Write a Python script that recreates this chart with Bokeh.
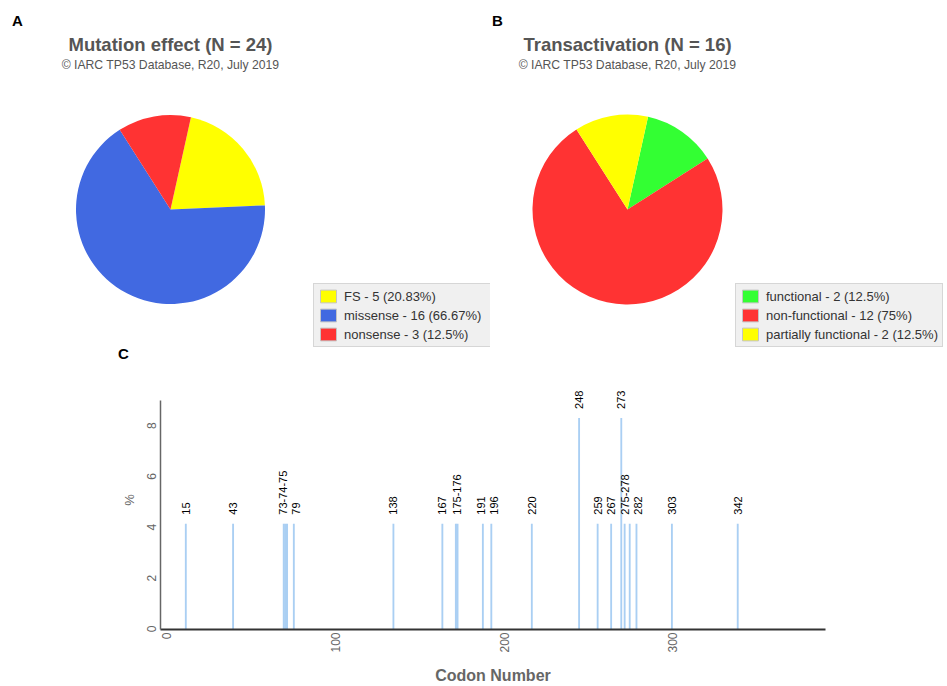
import math
from bokeh.plotting import figure
from bokeh.models import (Range1d, Label, LabelSet, ColumnDataSource, Legend,
                          LegendItem, FixedTicker, LinearAxis)
from bokeh.layouts import column, row
from bokeh.core.properties import value
from bokeh.embed import file_html
from bokeh.resources import INLINE

# ---------------- data ----------------
# Panel A: mutation effect
effect_cats = ["FS", "missense", "nonsense"]
effect_counts = [5, 16, 3]
effect_colors = ["#FFFF00", "#4169E1", "#FF3333"]

# Panel B: transactivation
ta_cats = ["functional", "non-functional", "partially functional"]
ta_counts = [2, 12, 2]
ta_colors = ["#33FF33", "#FF3333", "#FFFF00"]

# Panel C: codon distribution (number of mutations per codon)
codons = [15, 43, 73, 74, 75, 79, 138, 167, 175, 176, 191, 196, 220, 248,
          259, 267, 273, 275, 278, 282, 303, 342]
codon_counts = [1, 1, 1, 1, 1, 1, 1, 1, 1, 1, 1, 1, 1, 2,
                1, 1, 2, 1, 1, 1, 1, 1]
codon_labels = ["15", "43", "73-74-75", "79", "138", "167", "175-176", "191",
                "196", "220", "248", "259", "267", "273", "275-278", "282",
                "303", "342"]
x_ticks = [0, 100, 200, 300]
y_ticks = [0, 2, 4, 6, 8]

SUBTITLE = "\u00a9 IARC TP53 Database, R20, July 2019"
FONT = "Liberation Sans"

TOP_H = 365      # height of the pie row
SPLIT = 490      # width of the left pie panel
PAGE_W = 947
PAGE_H = 686
X_MAX = 394
Y_MAX = 10.2
FRAME_L, FRAME_R = 160, 122
BORDER_T, BORDER_B = 5, 57


def fmt_pct(v):
    return f"{round(v, 2):g}"


def pie_figure(x0, x1, title, cats, counts, colors, cx, cy, r, legend_x):
    p = figure(width=int(x1 - x0), height=TOP_H,
               x_range=Range1d(x0, x1), y_range=Range1d(TOP_H, 0),
               x_axis_type=None, y_axis_type=None,
               output_backend="svg", toolbar_location=None, min_border=0)
    p.grid.visible = False
    p.outline_line_color = None
    total = sum(counts)
    start_deg = 12.5  # clockwise from top
    s_ang, e_ang = [], []
    acc = start_deg
    for c in counts:
        a0 = acc
        a1 = acc + 360.0 * c / total
        s_ang.append(math.radians(90 - a0))
        e_ang.append(math.radians(90 - a1))
        acc = a1
    src = ColumnDataSource(dict(cat=cats, count=counts, color=colors,
                                s=s_ang, e=e_ang))
    p.wedge(x=cx, y=cy, radius=r, start_angle="s", end_angle="e",
            direction="clock", fill_color="color", line_color=None,
            source=src)

    p.add_layout(Label(x=cx, y=44, text=f"{title} (N = {total})",
                       text_align="center", text_baseline="middle",
                       text_font=FONT, text_font_size="18.5px",
                       text_font_style="bold", text_color="#555555"))
    p.add_layout(Label(x=cx, y=64, text=SUBTITLE,
                       text_align="center", text_baseline="middle",
                       text_font=FONT, text_font_size="12.2px",
                       text_color="#555555"))

    items = []
    for cat, n, col in zip(cats, counts, colors):
        rr = p.rect(x=[float("nan")], y=[float("nan")], width=1, height=1,
                    fill_color=col, line_color="#c4c4c4", line_width=1)
        items.append(LegendItem(label=f"{cat} - {n} ({fmt_pct(100.0 * n / total)}%)",
                                renderers=[rr]))
    leg = Legend(items=items, location=(legend_x - x0, TOP_H - 347),
                 glyph_width=20, glyph_height=16, label_height=14,
                 label_width=142,
                 label_standoff=6, spacing=3, padding=4, margin=0,
                 label_text_font=FONT, label_text_font_size="13px",
                 label_text_color="#333333",
                 background_fill_color="#f0f0f0", background_fill_alpha=1,
                 border_line_color="#bbbbbb", border_line_width=1)
    p.add_layout(leg)
    return p


pA = pie_figure(0, SPLIT, "Mutation effect", effect_cats, effect_counts,
                effect_colors, 170, 209, 94.5, 313)
pB = pie_figure(SPLIT, PAGE_W, "Transactivation", ta_cats, ta_counts,
                ta_colors, 627, 209, 95, 735)

for p, letter, lx0, ly0 in ((pA, "A", 17, 20), (pB, "B", 497, 20),
                            (pA, "C", 123, 353)):
    p.add_layout(Label(x=lx0, y=ly0, text=letter,
                       text_align="center", text_baseline="middle",
                       text_font=FONT, text_font_size="15px",
                       text_font_style="bold", text_color="#000000"))

# ---------------- panel C ----------------
N = sum(codon_counts)
pct = [100.0 * c / N for c in codon_counts]
pct_by_codon = dict(zip(codons, pct))

pc = figure(width=PAGE_W, height=PAGE_H - TOP_H,
            x_range=Range1d(0, X_MAX), y_range=Range1d(0, Y_MAX),
            output_backend="svg", toolbar_location=None,
            min_border_left=FRAME_L, min_border_right=FRAME_R,
            min_border_top=BORDER_T, min_border_bottom=BORDER_B)
pc.grid.visible = False
pc.outline_line_color = None

bar_src = ColumnDataSource(dict(codon=codons, pct=pct))
pc.vbar(x="codon", top="pct", width=1.1, source=bar_src,
        fill_color="#7cb5ec", fill_alpha=0.65, line_color=None)

# label anchors: centre of each group, at the tallest bar of the group
lx, ly = [], []
for lab in codon_labels:
    cs = [int(s) for s in lab.split("-")]
    lx.append(sum(cs) / len(cs))
    ly.append(max(pct_by_codon[c] for c in cs))
# push apart neighbouring labels at the same height that would overlap
px_per_unit = (PAGE_W - FRAME_L - FRAME_R) / X_MAX
py_per_unit = (PAGE_H - TOP_H - BORDER_T - BORDER_B) / Y_MAX
min_gap = 13.0 / px_per_unit
for i in range(len(lx) - 1):
    if abs(ly[i] - ly[i + 1]) < 1e-9 and lx[i + 1] - lx[i] < min_gap:
        d = (min_gap - (lx[i + 1] - lx[i])) / 2
        lx[i] -= d
        lx[i + 1] += d
lab_src = ColumnDataSource(dict(x=lx, y=ly, text=codon_labels))
pc.add_layout(LabelSet(x="x", y="y", text="text", source=lab_src,
                       angle=math.pi / 2, y_offset=9,
                       text_align="left", text_baseline="middle",
                       text_font=value(FONT), text_font_size=value("11px"),
                       text_color="#000000"))


def style_axis(ax):
    ax.major_tick_line_color = None
    ax.minor_tick_line_color = None
    ax.major_tick_out = 0
    ax.major_tick_in = 0
    ax.minor_tick_out = 0
    ax.minor_tick_in = 0
    ax.major_label_text_font = FONT
    ax.major_label_text_font_size = "12px"
    ax.major_label_text_color = "#666666"
    ax.major_label_orientation = math.pi / 2
    ax.axis_label_text_font = FONT
    ax.axis_label_text_color = "#666666"


# main axes: lines only
xa = pc.xaxis[0]
style_axis(xa)
xa.ticker = FixedTicker(ticks=[])
xa.major_label_standoff = 0
xa.axis_line_color = "#333333"
xa.axis_line_width = 2

ya = pc.yaxis[0]
style_axis(ya)
ya.ticker = FixedTicker(ticks=[])
ya.bounds = (0, 9)
ya.major_label_standoff = 0
ya.axis_line_color = "#666666"
ya.axis_line_width = 1.5

# rotated tick labels are offset from their ticks, as in the original
shift_x = 6.0 / px_per_unit
shift_y = 4.0 / py_per_unit
pc.extra_x_ranges = {"ticklab": Range1d(-shift_x, X_MAX - shift_x)}
pc.extra_y_ranges = {"ticklab": Range1d(-shift_y, Y_MAX - shift_y)}

xl = LinearAxis(x_range_name="ticklab", ticker=FixedTicker(ticks=x_ticks))
style_axis(xl)
xl.axis_line_color = None
xl.major_label_standoff = 3
xl.axis_label = "Codon Number"
xl.axis_label_text_font_size = "16px"
xl.axis_label_text_font_style = "bold"
xl.axis_label_standoff = 11
pc.add_layout(xl, "below")

yl = LinearAxis(y_range_name="ticklab", ticker=FixedTicker(ticks=y_ticks))
style_axis(yl)
yl.axis_line_color = None
yl.major_label_standoff = 9
yl.axis_label = "%"
yl.axis_label_text_font_size = "13px"
yl.axis_label_text_font_style = "normal"
yl.axis_label_standoff = 3
pc.add_layout(yl, "left")

layout = column(row(pA, pB), pc)
open("out.html", "w").write(file_html(layout, INLINE))
